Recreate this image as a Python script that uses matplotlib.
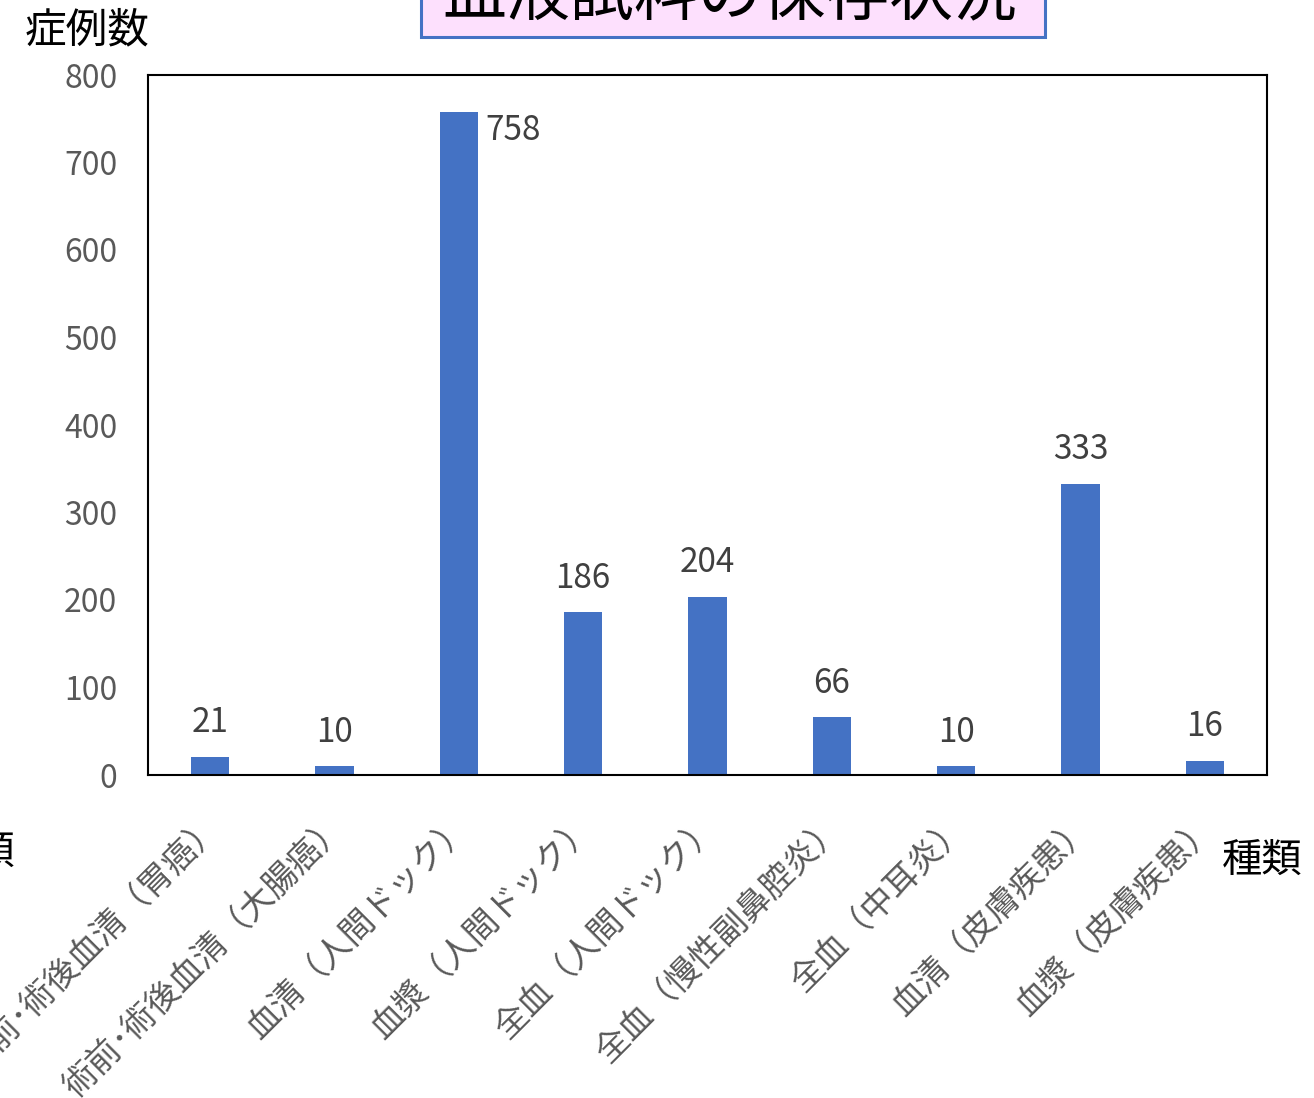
import matplotlib
matplotlib.use("Agg")
import matplotlib.pyplot as plt
from matplotlib.patches import Rectangle
from matplotlib.transforms import offset_copy

plt.rcParams['font.family'] = ['Noto Sans CJK JP', 'DejaVu Sans']

categories = ['術前･術後血清（胃癌）', '術前･術後血清（大腸癌）', '血清（人間ドック）',
              '血漿（人間ドック）', '全血（人間ドック）', '全血（慢性副鼻腔炎）',
              '全血（中耳炎）', '血清（皮膚疾患）', '血漿（皮膚疾患）']
counts = [21, 10, 758, 186, 204, 66, 10, 333, 16]
yticks = [0, 100, 200, 300, 400, 500, 600, 700, 800]

W, H = 1314, 1098
fig = plt.figure(figsize=(W / 100, H / 100), dpi=100)
ax = fig.add_axes([148 / W, 1 - 775 / H, (1267 - 148) / W, (775 - 75) / H])

x = list(range(len(categories)))
bars = ax.bar(x, counts, width=0.31, color='#4472C4', zorder=2)

ax.set_xlim(-0.5, len(categories) - 0.5)
ax.set_ylim(0, 800)
ax.set_yticks(yticks)
ax.set_yticklabels([str(v) for v in yticks], fontsize=23, color='#595959')
ax.tick_params(axis='y', length=0, pad=22)

ax.set_xticks(x)
ax.set_xticklabels(categories, rotation=45, ha='right', va='center',
                   rotation_mode='anchor', fontsize=24, color='#595959')
ax.tick_params(axis='x', length=0, pad=33)
for lab in ax.get_xticklabels():
    lab.set_transform(offset_copy(lab.get_transform(), fig=fig, x=6, y=0, units='dots'))

for sp in ax.spines.values():
    sp.set_color('black')
    sp.set_linewidth(1.5)

# data labels
for xi, v in zip(x, counts):
    if v > 700:
        ax.annotate(str(v), (xi + 0.155, v), xytext=(5, -1), textcoords='offset points',
                    ha='left', va='top', fontsize=24, color='#404040')
    else:
        ax.annotate(str(v), (xi, v), xytext=(0, 12), textcoords='offset points',
                    ha='center', va='bottom', fontsize=24, color='#404040')

# title box (cut at top of the figure)
box = Rectangle((421 / W, 1 - 37 / H), (1045 - 421) / W, 60 / H, transform=fig.transFigure,
                facecolor='#FDE0FD', edgecolor='#4472C4', linewidth=2.2, clip_on=False)
fig.patches.append(box)
fig.text(730 / W, 1 - 15 / H, '血液試料の保存状況', ha='center', va='baseline',
         fontsize=46, color='black')

fig.text(25 / W, 1 - 42 / H, '症例数', ha='left', va='baseline', fontsize=30, color='black')
fig.text(1222 / W, 1 - 872 / H, '種類', ha='left', va='baseline', fontsize=29, color='black')
fig.text(15 / W, 1 - 864 / H, '種類', ha='right', va='baseline', fontsize=29, color='black')

fig.savefig('out.png', dpi=100)
